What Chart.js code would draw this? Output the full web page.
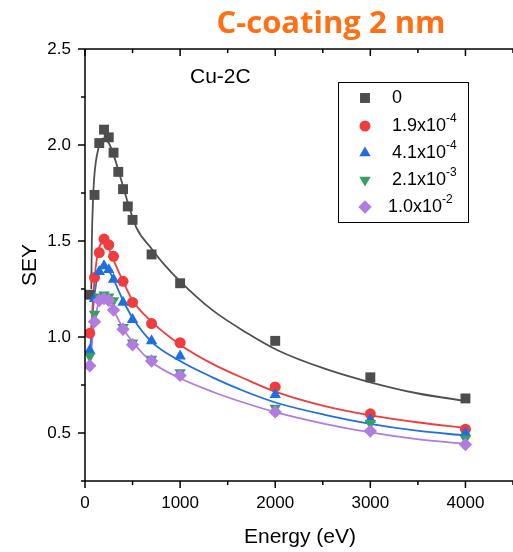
<!DOCTYPE html>
<html>
<head>
<meta charset="utf-8">
<script src="https://cdn.jsdelivr.net/npm/chart.js@4.4.1/dist/chart.umd.min.js"></script>
<style>
  html, body { margin: 0; padding: 0; background: #fff; overflow: hidden; }
</style>
</head>
<body>
<canvas id="chartCanvas" width="520" height="552"></canvas>
<script>
const energyBare = [50, 100, 150, 200, 250, 300, 350, 400, 450, 500, 700, 1000, 2000, 3000, 4000];
const energy = [50, 100, 150, 200, 250, 300, 400, 500, 700, 1000, 2000, 3000, 4000];
const sey0 = [1.22, 1.74, 2.01, 2.08, 2.04, 1.96, 1.86, 1.77, 1.68, 1.61, 1.43, 1.28, 0.98, 0.79, 0.68];
const sey19 = [1.02, 1.31, 1.44, 1.51, 1.48, 1.42, 1.29, 1.18, 1.07, 0.97, 0.74, 0.60, 0.52];
const sey41 = [0.93, 1.20, 1.34, 1.37, 1.35, 1.30, 1.18, 1.09, 0.98, 0.90, 0.70, 0.57, 0.50];
const sey21 = [0.90, 1.12, 1.21, 1.22, 1.21, 1.19, 1.05, 0.97, 0.885, 0.815, 0.63, 0.55, 0.47];
const sey10 = [0.85, 1.08, 1.19, 1.20, 1.19, 1.14, 1.04, 0.96, 0.875, 0.80, 0.61, 0.51, 0.44];

// fitted curves, also
const fitE0 = [66, 72, 85, 100, 140, 190, 250, 300, 350, 450, 540, 700, 820, 1000, 1340, 1690, 2030, 2520, 3000, 3490, 4000];
const fit0 = [1.25, 1.50, 1.72, 1.85, 1.98, 2.035, 2.01, 1.95, 1.87, 1.70, 1.57, 1.46, 1.385, 1.29, 1.14, 1.025, 0.93, 0.835, 0.764, 0.707, 0.667];
const fitE1 = [60, 100, 140, 195, 250, 300, 400, 500, 700, 1000, 1340, 1690, 2030, 2520, 3000, 3490, 4000];
const fit1 = [1.0, 1.30, 1.45, 1.49, 1.46, 1.40, 1.29, 1.19, 1.08, 0.96, 0.86, 0.78, 0.71, 0.64, 0.592, 0.556, 0.527];
const fitE2 = [55, 80, 100, 140, 195, 250, 300, 400, 500, 700, 1000, 1340, 1690, 2030, 2520, 3000, 3490, 4000];
const fit2 = [0.93, 1.12, 1.22, 1.33, 1.365, 1.345, 1.30, 1.19, 1.10, 0.975, 0.875, 0.79, 0.715, 0.655, 0.595, 0.548, 0.512, 0.487];
const fitE4 = [55, 80, 100, 140, 200, 250, 300, 400, 500, 700, 1000, 1340, 1690, 2030, 2520, 3000, 3490, 4000];
const fit4 = [0.85, 1.0, 1.08, 1.17, 1.20, 1.185, 1.14, 1.045, 0.975, 0.87, 0.785, 0.715, 0.655, 0.605, 0.548, 0.503, 0.468, 0.443];

// axis ticks and legend text
const xTicks = [0, 1000, 2000, 3000, 4000];
const yTicks = [0.5, 1.0, 1.5, 2.0, 2.5];
const legendBase = ['0', '1.9x10', '4.1x10', '2.1x10', '1.0x10'];
const legendExp = ['', '-4', '-4', '-3', '-2'];

const colors = ['#4d4d4d', '#f03c3c', '#1f6fe0', '#34a061', '#b07ce0'];
const lineColors = ['#505050', '#f03c3c', '#1f6fe0', '#b07ce0'];
const styles = [
    { pointStyle: 'rect', radius: 7, rotation: 0 },
    { pointStyle: 'circle', radius: 5.5, rotation: 0 },
    { pointStyle: 'triangle', radius: 6.6, rotation: 0 },
    { pointStyle: 'triangle', radius: 6.6, rotation: 180 },
    { pointStyle: 'rectRot', radius: 6.7, rotation: 0 }
];

const toXY = (xs, ys) => xs.map((x, i) => ({ x: x, y: ys[i] }));

function pointSet(data, i) {
    return {
        data: data,
        showLine: false,
        backgroundColor: colors[i],
        borderColor: colors[i],
        pointStyle: styles[i].pointStyle,
        pointRadius: styles[i].radius,
        pointRotation: styles[i].rotation,
        pointBorderWidth: 0,
        pointHoverRadius: styles[i].radius,
        order: 5 - i
    };
}

function curveSet(data, color) {
    return {
        data: data,
        showLine: true,
        borderColor: color,
        borderWidth: 1.8,
        pointRadius: 0,
        pointHoverRadius: 0,
        cubicInterpolationMode: 'monotone',
        order: 20
    };
}

// title, annotation, axes frame and legend
const overlay = {
    id: 'overlay',
    afterDraw(chart) {
        const ctx = chart.ctx;
        const xs = chart.scales.x, ys = chart.scales.y;
        const a = chart.chartArea;
        ctx.save();
        ctx.strokeStyle = '#000';
        ctx.lineWidth = 1.5;
        const seg = (x1, y1, x2, y2) => { ctx.beginPath(); ctx.moveTo(x1, y1); ctx.lineTo(x2, y2); ctx.stroke(); };

        seg(a.left, a.top, a.right + 5, a.top);
        seg(a.left, a.bottom, a.right + 5, a.bottom);
        seg(a.left, a.top, a.left, a.bottom);
        for (let v = 0; v <= 4500; v += 500) {
            const px = xs.getPixelForValue(v);
            const len = v % 1000 === 0 ? 7 : 4;
            seg(px, a.bottom, px, a.bottom + len);
            seg(px, a.top, px, a.top + len);
        }
        for (let k = 1; k <= 10; k++) {
            const v = k * 0.25;
            const py = ys.getPixelForValue(v);
            const len = k % 2 === 0 ? 7 : 4;
            seg(a.left - len, py, a.left, py);
        }

        ctx.fillStyle = '#000';
        ctx.font = '21px "Liberation Sans", Arial, sans-serif';
        ctx.textAlign = 'center';
        ctx.textBaseline = 'middle';
        ctx.fillText('Energy (eV)', 300, 537);
        ctx.save();
        ctx.translate(30, 265);
        ctx.rotate(-Math.PI / 2);
        ctx.fillText('SEY', 0, 0);
        ctx.restore();

        ctx.textAlign = 'left';
        ctx.textBaseline = 'alphabetic';
        ctx.fillText('Cu-2C', 190, 83);

        ctx.fillStyle = '#ff7015';
        ctx.font = 'bold 31px "Open Sans", sans-serif';
        ctx.textAlign = 'center';
        ctx.fillText('C-coating 2 nm', 331, 33);

        // legend box
        ctx.lineWidth = 1;
        ctx.strokeStyle = '#000';
        ctx.strokeRect(338.5, 82.5, 130, 140);
        const rowY = [98, 126, 153, 180, 207];
        legendBase.forEach((txt, i) => {
            ctx.fillStyle = colors[i];
            Chart.helpers.drawPoint(ctx, {
                pointStyle: styles[i].pointStyle,
                radius: styles[i].radius,
                rotation: styles[i].rotation,
                borderWidth: 0
            }, 365, rowY[i]);
            ctx.fillStyle = '#000';
            ctx.textAlign = 'left';
            ctx.textBaseline = 'middle';
            ctx.font = '18px "Liberation Sans", Arial, sans-serif';
            const tx = i === 4 ? 388 : 392;
            ctx.fillText(txt, tx, rowY[i]);
            if (legendExp[i]) {
                const w = ctx.measureText(txt).width;
                ctx.font = '12px "Liberation Sans", Arial, sans-serif';
                ctx.fillText(legendExp[i], tx + w, rowY[i] - 7);
            }
        });
        ctx.restore();
    }
};

const tickFont = { family: '"Liberation Sans", Arial, sans-serif', size: 17 };

new Chart(document.getElementById('chartCanvas'), {
    type: 'scatter',
    data: {
        datasets: [
            curveSet(toXY(fitE0, fit0), lineColors[0]),
            curveSet(toXY(fitE1, fit1), lineColors[1]),
            curveSet(toXY(fitE2, fit2), lineColors[2]),
            curveSet(toXY(fitE4, fit4), lineColors[3]),
            pointSet(toXY(energyBare, sey0), 0),
            pointSet(toXY(energy, sey19), 1),
            pointSet(toXY(energy, sey41), 2),
            pointSet(toXY(energy, sey21), 3),
            pointSet(toXY(energy, sey10), 4)
        ]
    },
    options: {
        responsive: false,
        animation: false,
        events: [],
        layout: { padding: { top: 49, right: 3, left: 0, bottom: 0 } },
        plugins: { legend: { display: false }, tooltip: { enabled: false } },
        scales: {
            x: {
                type: 'linear',
                min: 0,
                max: 4500,
                grid: { display: false, drawTicks: false },
                border: { display: false },
                afterBuildTicks: s => { s.ticks = xTicks.map(v => ({ value: v })); },
                afterFit: s => { s.height = 71; },
                ticks: { font: tickFont, color: '#000', padding: 12, maxRotation: 0, autoSkip: false, callback: v => String(v) }
            },
            y: {
                type: 'linear',
                min: 0.25,
                max: 2.5,
                grid: { display: false, drawTicks: false },
                border: { display: false },
                afterBuildTicks: s => { s.ticks = yTicks.map(v => ({ value: v })); },
                afterFit: s => { s.width = 85; },
                ticks: { font: tickFont, color: '#000', padding: 14, callback: v => v.toFixed(1) }
            }
        }
    },
    plugins: [overlay]
});
</script>
</body>
</html>
